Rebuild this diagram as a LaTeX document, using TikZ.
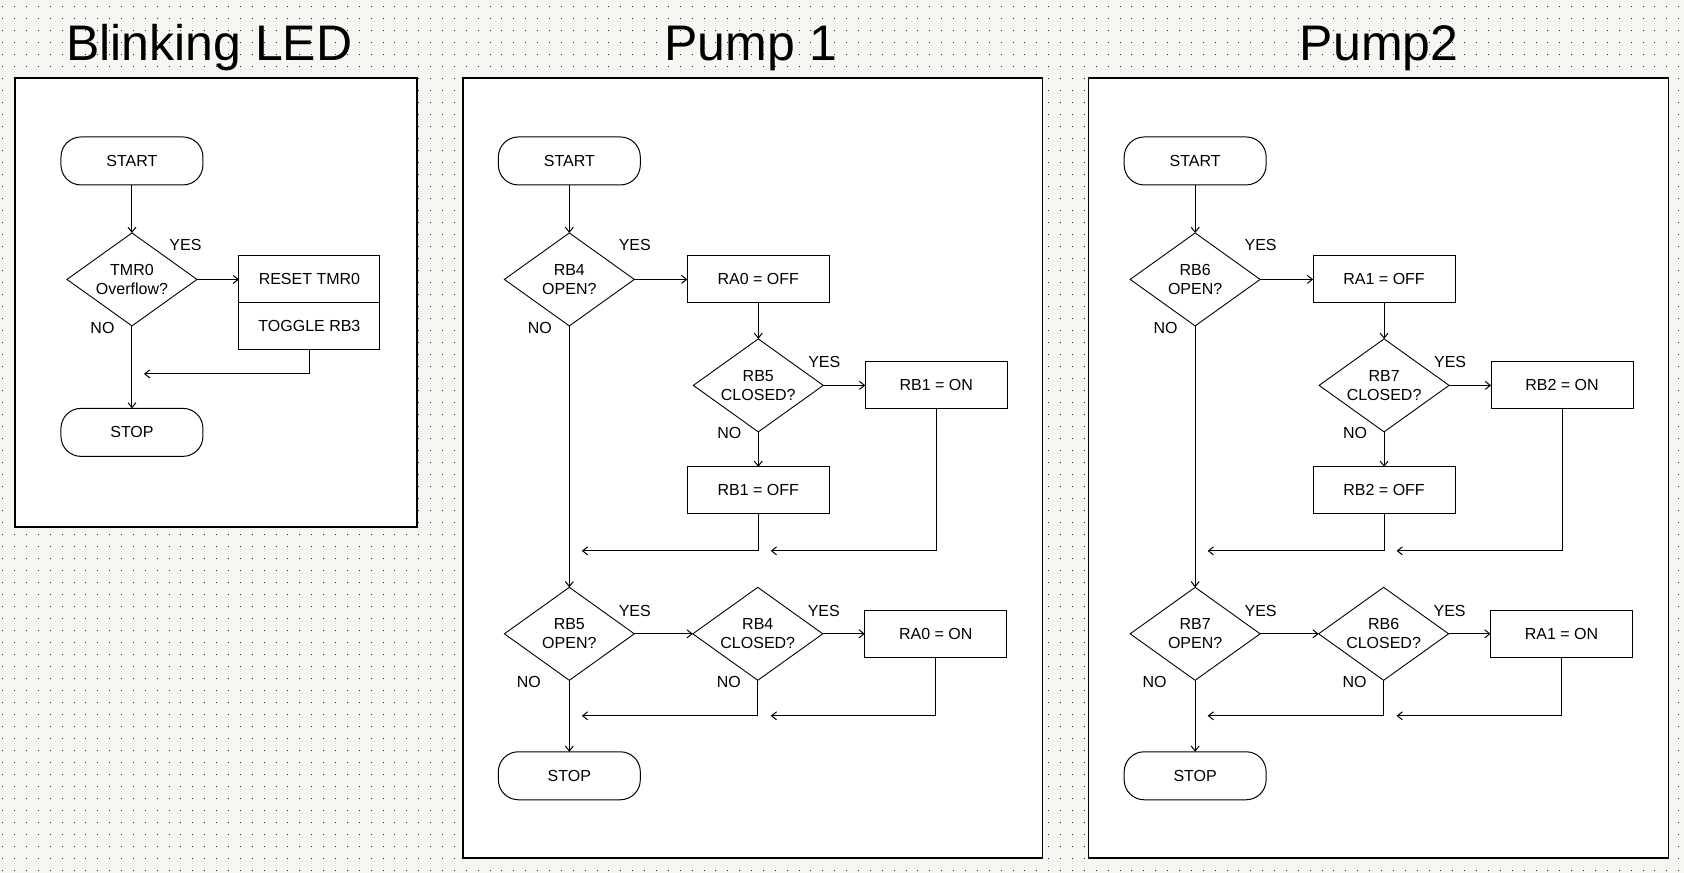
\documentclass[tikz,border=0pt]{standalone}
\usepackage{fontspec}
\setmainfont{Liberation Sans}
\usetikzlibrary{arrows.meta,positioning,shapes.geometric}
\definecolor{paper}{HTML}{F8F6F0}
\tikzset{
  term/.style  ={draw=black,line width=1pt,fill=white,rounded corners=20pt,outer sep=0pt,
                 minimum width=142pt,minimum height=48pt,inner sep=0pt,
                 font=\fontsize{16}{19}\selectfont},
  proc/.style  ={draw=black,line width=1pt,fill=white,outer sep=0pt,
                 minimum width=142pt,minimum height=47pt,inner sep=0pt,
                 font=\fontsize{16}{19}\selectfont},
  dec/.style   ={draw=black,line width=.9pt,fill=white,diamond,aspect=1.4,outer sep=0pt,
                 minimum width=130pt,minimum height=93pt,inner sep=0pt,align=center,
                 font=\fontsize{16}{19}\selectfont},
  lbl/.style   ={inner sep=0pt,font=\fontsize{16}{19}\selectfont},
  panel/.style ={draw=black,line width=1.5pt,fill=white},
  title/.style ={inner sep=0pt,anchor=base,font=\fontsize{50}{60}\selectfont},
  gridpt/.style={black!85,line width=1pt,dash pattern=on 1pt off 10.89pt},
  a/.style     ={-{Straight Barb[length=5pt,width=8pt]},line width=1pt},
}
\begin{document}
\begin{tikzpicture}[x=1pt,y=1pt]
  % sheet with dot grid
  \fill[paper] (0,0) rectangle (1684,-873);
  \foreach \r in {0,...,72}
    \draw[gridpt] (2.2,{-6.7-12*\r}) -- (1684,{-6.7-12*\r});
  \draw[panel] (15,-78) rectangle (417,-527);
  \draw[panel] (463,-78) rectangle (1043,-858);
  \draw[panel] (1089,-78) rectangle (1669,-858);
  \node[title] (t0) at (209.5,-61) {Blinking LED};
  \node[title] (t1) at (751,-61) {Pump 1};
  \node[title] (t2) at (1379.5,-61) {Pump2};

  % blinking LED
  \node[term] (start0) at (132,-161) {START};
  \node[dec,below=48pt of start0] (tmr) {TMR0\\Overflow?};
  \node[proc,right=42pt of tmr,minimum width=141pt] (reset) {RESET TMR0};
  \node[proc,below=0pt of reset,minimum width=141pt] (toggle) {TOGGLE RB3};
  \node[term,below=82.5pt of tmr] (stop0) {STOP};
  \node[lbl] (yes0) at ([shift={(53.5,34.5)}]tmr.center) {YES};
  \node[lbl] (no0) at ([shift={(-29.5,-48.5)}]tmr.center) {NO};
  \coordinate (m0) at (144,-374);
  \draw[a] (start0) -- (tmr);
  \draw[a] (tmr.east) -- (reset.west);
  \draw[a] (toggle.south) |- (m0);
  \draw[a] (tmr.south) -- (stop0.north);

  % pump 1
  \node[term] (start1) at (569.5,-161) {START};
  \node[dec,below=48pt of start1] (rb4o) {RB4\\OPEN?};
  \node[proc,right=53pt of rb4o] (ra0off) {RA0 = OFF};
  \node[dec,below=36pt of ra0off] (rb5c) {RB5\\CLOSED?};
  \node[proc,right=42pt of rb5c] (rb1on) {RB1 = ON};
  \node[proc,below=35pt of rb5c] (rb1off) {RB1 = OFF};
  \node[dec] (rb5o) at (569.5,-634) {RB5\\OPEN?};
  \node[dec,right=58.5pt of rb5o] (rb4c) {RB4\\CLOSED?};
  \node[proc,right=42pt of rb4c] (ra0on) {RA0 = ON};
  \node[term,below=71.5pt of rb5o] (stop1) {STOP};
  \node[lbl] (yes11) at ([shift={(65.5,34)}]rb4o.center) {YES};
  \node[lbl] (no11) at ([shift={(-29.5,-48.5)}]rb4o.center) {NO};
  \node[lbl] (yes12) at ([shift={(66,23)}]rb5c.center) {YES};
  \node[lbl] (no12) at ([shift={(-29,-48)}]rb5c.center) {NO};
  \node[lbl] (yes13) at ([shift={(65.5,23)}]rb5o.center) {YES};
  \node[lbl] (no13) at ([shift={(-40.5,-48)}]rb5o.center) {NO};
  \node[lbl] (yes14) at ([shift={(66,23)}]rb4c.center) {YES};
  \node[lbl] (no14) at ([shift={(-29,-48)}]rb4c.center) {NO};
  \coordinate (m11) at (582,-551);
  \coordinate (m12) at (771,-551);
  \coordinate (m13) at (582,-716);
  \coordinate (m14) at (771,-716);
  \draw[a] (start1) -- (rb4o);
  \draw[a] (rb4o.east) -- (ra0off.west);
  \draw[a] (ra0off.south) -- (rb5c.north);
  \draw[a] (rb5c.east) -- (rb1on.west);
  \draw[a] (rb5c.south) -- (rb1off.north);
  \draw[a] (rb1off.south) |- (m11);
  \draw[a] (rb1on.south) |- (m12);
  \draw[a] (rb4o.south) -- (rb5o.north);
  \draw[a] (rb5o.east) -- (rb4c.west);
  \draw[a] (rb4c.east) -- (ra0on.west);
  \draw[a] (rb4c.south) |- (m13);
  \draw[a] (ra0on.south) |- (m14);
  \draw[a] (rb5o.south) -- (stop1.north);

  % pump 2
  \node[term] (start2) at (1195.5,-161) {START};
  \node[dec,below=48pt of start2] (rb6o) {RB6\\OPEN?};
  \node[proc,right=53pt of rb6o] (ra1off) {RA1 = OFF};
  \node[dec,below=36pt of ra1off] (rb7c) {RB7\\CLOSED?};
  \node[proc,right=42pt of rb7c] (rb2on) {RB2 = ON};
  \node[proc,below=35pt of rb7c] (rb2off) {RB2 = OFF};
  \node[dec] (rb7o) at (1195.5,-634) {RB7\\OPEN?};
  \node[dec,right=58.5pt of rb7o] (rb6c) {RB6\\CLOSED?};
  \node[proc,right=42pt of rb6c] (ra1on) {RA1 = ON};
  \node[term,below=71.5pt of rb7o] (stop2) {STOP};
  \node[lbl] (yes21) at ([shift={(65.5,34)}]rb6o.center) {YES};
  \node[lbl] (no21) at ([shift={(-29.5,-48.5)}]rb6o.center) {NO};
  \node[lbl] (yes22) at ([shift={(66,23)}]rb7c.center) {YES};
  \node[lbl] (no22) at ([shift={(-29,-48)}]rb7c.center) {NO};
  \node[lbl] (yes23) at ([shift={(65.5,23)}]rb7o.center) {YES};
  \node[lbl] (no23) at ([shift={(-40.5,-48)}]rb7o.center) {NO};
  \node[lbl] (yes24) at ([shift={(66,23)}]rb6c.center) {YES};
  \node[lbl] (no24) at ([shift={(-29,-48)}]rb6c.center) {NO};
  \coordinate (m21) at (1208,-551);
  \coordinate (m22) at (1397,-551);
  \coordinate (m23) at (1208,-716);
  \coordinate (m24) at (1397,-716);
  \draw[a] (start2) -- (rb6o);
  \draw[a] (rb6o.east) -- (ra1off.west);
  \draw[a] (ra1off.south) -- (rb7c.north);
  \draw[a] (rb7c.east) -- (rb2on.west);
  \draw[a] (rb7c.south) -- (rb2off.north);
  \draw[a] (rb2off.south) |- (m21);
  \draw[a] (rb2on.south) |- (m22);
  \draw[a] (rb6o.south) -- (rb7o.north);
  \draw[a] (rb7o.east) -- (rb6c.west);
  \draw[a] (rb6c.east) -- (ra1on.west);
  \draw[a] (rb6c.south) |- (m23);
  \draw[a] (ra1on.south) |- (m24);
  \draw[a] (rb7o.south) -- (stop2.north);
\end{tikzpicture}
\end{document}
